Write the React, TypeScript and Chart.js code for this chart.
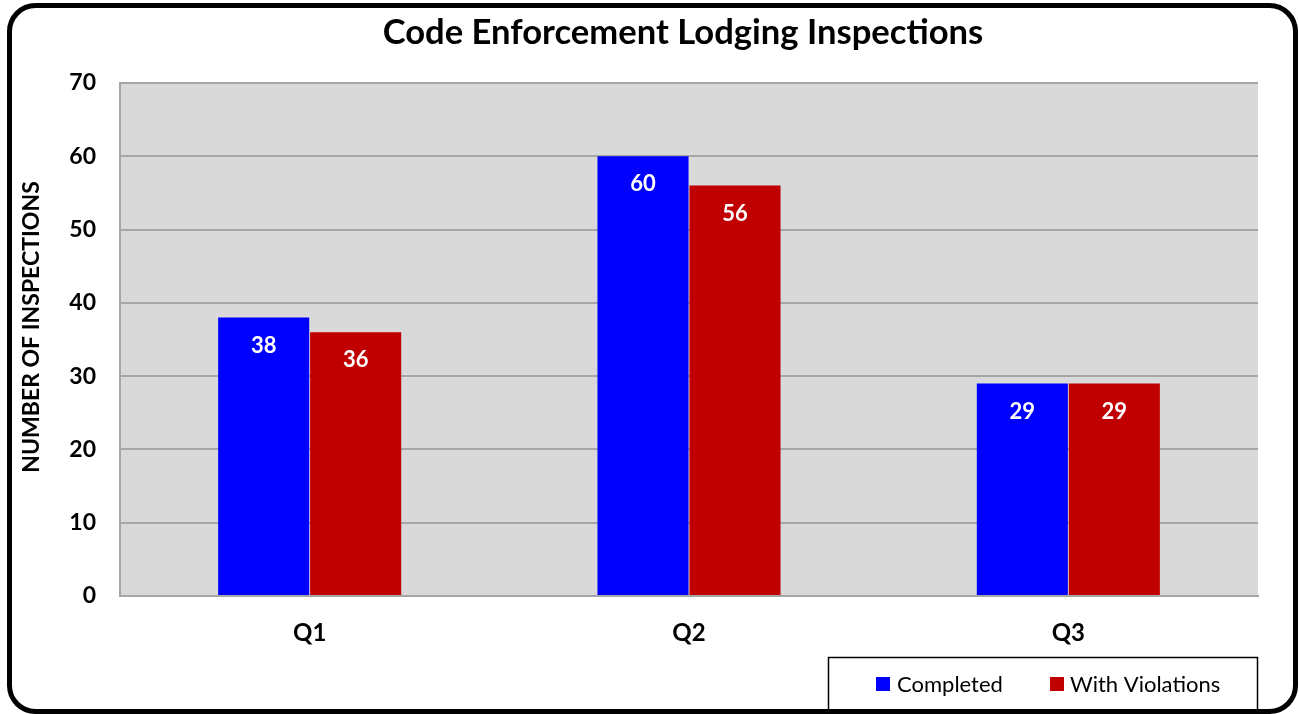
import React, { useEffect, useRef } from "react";
import { Chart, registerables } from "chart.js";

Chart.register(...registerables);

const TITLE = "Code Enforcement Lodging Inspections";
const Y_TITLE = "NUMBER OF INSPECTIONS";
const categories = ["Q1", "Q2", "Q3"];
const completed = [38, 60, 29];
const withViolations = [36, 56, 29];
const seriesNames = ["Completed", "With Violations"];
const seriesColors = ["#0000FF", "#C00000"];

const FONT = "Lato, 'Open Sans', sans-serif";

const decorPlugin = {
  id: "decor",
  beforeDraw(chart: any) {
    const { ctx, chartArea } = chart;
    ctx.save();
    ctx.fillStyle = "#ffffff";
    ctx.fillRect(0, 0, chart.width, chart.height);
    ctx.fillStyle = "#D9D9D9";
    ctx.fillRect(chartArea.left, chartArea.top, chartArea.right - chartArea.left, chartArea.bottom - chartArea.top);
    ctx.restore();
  },
  afterDatasetsDraw(chart: any) {
    const { ctx } = chart;
    ctx.save();
    ctx.fillStyle = "#ffffff";
    ctx.font = `bold 22px ${FONT}`;
    ctx.textAlign = "center";
    ctx.textBaseline = "middle";
    chart.data.datasets.forEach((ds: any, i: number) => {
      const meta = chart.getDatasetMeta(i);
      meta.data.forEach((bar: any, j: number) => {
        ctx.fillText(String(ds.data[j]), bar.x, bar.y + 28);
      });
    });
    ctx.restore();
  },
  afterDraw(chart: any) {
    const { ctx } = chart;
    ctx.save();
    // title
    ctx.fillStyle = "#000000";
    ctx.font = `bold 34.6px ${FONT}`;
    ctx.textAlign = "center";
    ctx.textBaseline = "middle";
    ctx.fillText(TITLE, 683, 33);
    // y-axis title
    ctx.save();
    ctx.translate(32, 327);
    ctx.rotate(-Math.PI / 2);
    ctx.font = `bold 23px ${FONT}`;
    ctx.fillText(Y_TITLE, 0, 0);
    ctx.restore();
    // legend box
    ctx.strokeStyle = "#000000";
    ctx.lineWidth = 1.5;
    ctx.strokeRect(828.5, 657.5, 429, 60);
    ctx.font = `22px ${FONT}`;
    ctx.textAlign = "left";
    const items = [
      { x: 876, tx: 897 },
      { x: 1050, tx: 1070 },
    ];
    items.forEach((it, i) => {
      ctx.fillStyle = seriesColors[i];
      ctx.fillRect(it.x, 677, 14, 14);
      ctx.fillStyle = "#000000";
      ctx.fillText(seriesNames[i], it.tx, 685);
    });
    // frame
    ctx.lineWidth = 5;
    ctx.strokeStyle = "#000000";
    ctx.beginPath();
    ctx.roundRect(9.5, 5.5, 1286, 706, 26);
    ctx.stroke();
    ctx.restore();
  },
};

export default function App() {
  const ref = useRef<HTMLCanvasElement | null>(null);
  useEffect(() => {
    document.body.style.margin = "0";
    if (!ref.current) return;
    const chart = new Chart(ref.current, {
      type: "bar",
      data: {
        labels: categories,
        datasets: [
          {
            label: seriesNames[0],
            data: completed,
            backgroundColor: seriesColors[0],
            categoryPercentage: 0.485,
            barPercentage: 0.99,
          },
          {
            label: seriesNames[1],
            data: withViolations,
            backgroundColor: seriesColors[1],
            categoryPercentage: 0.485,
            barPercentage: 0.99,
          },
        ],
      },
      options: {
        animation: false,
        responsive: false,
        devicePixelRatio: 1,
        layout: { padding: { left: 0, top: 83, right: 41, bottom: 0 } },
        plugins: {
          legend: { display: false },
          title: { display: false },
          tooltip: { enabled: false },
        },
        scales: {
          x: {
            grid: { display: false, drawTicks: false },
            border: { display: true, color: "#A6A6A6", width: 2 },
            ticks: {
              color: "#000000",
              font: { family: FONT, size: 24, weight: "bold" },
              padding: 23,
            },
            afterFit: (scale: any) => {
              scale.height = 118;
            },
          },
          y: {
            min: 0,
            max: 70,
            ticks: {
              stepSize: 10,
              color: "#000000",
              font: { family: FONT, size: 23, weight: "bold" },
              padding: 24,
            },
            grid: { color: "#A6A6A6", lineWidth: 2, drawTicks: false },
            border: { display: true, color: "#A6A6A6", width: 2 },
            title: { display: false },
            afterFit: (scale: any) => {
              scale.width = 120;
            },
          },
        },
      },
      plugins: [decorPlugin],
    });
    return () => chart.destroy();
  }, []);
  return (
    <div style={{ width: 1299, height: 714 }}>
      <canvas ref={ref} width={1299} height={714} style={{ display: "block" }} />
    </div>
  );
}
